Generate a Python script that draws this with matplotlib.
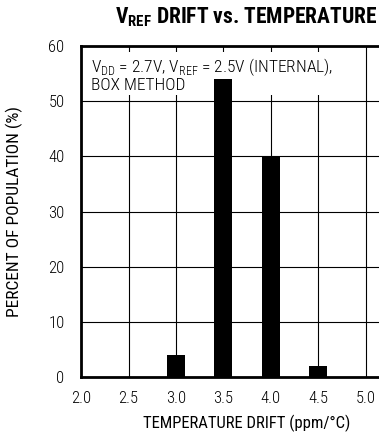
import matplotlib
matplotlib.use("Agg")
import matplotlib.pyplot as plt
from matplotlib import font_manager

drift = [3.0, 3.5, 4.0, 4.5]
percent = [4, 54, 40, 2]
xticks = [2.0, 2.5, 3.0, 3.5, 4.0, 4.5, 5.0]
yticks = [0, 10, 20, 30, 40, 50, 60]

# narrow font if there is one
installed = {f.name for f in font_manager.fontManager.ttflist}
font = 'Roboto'
for name in ['Roboto Condensed', 'Liberation Sans Narrow', 'Open Sans Condensed']:
    if name in installed:
        font = name
        break

plt.rcParams['font.family'] = [font, 'DejaVu Sans']
plt.rcParams['font.weight'] = 'light'
plt.rcParams['mathtext.fontset'] = 'custom'
plt.rcParams['mathtext.rm'] = font + ':light'
plt.rcParams['mathtext.bf'] = font + ':bold'

fig = plt.figure(figsize=(3.79, 4.38), dpi=100)
# axes run past the right edge, as in the cropped original
ax = fig.add_axes([0.214, 0.139, 0.876, 0.756])

ax.bar(drift, percent, width=0.19, color='black', zorder=5)

ax.set_xlim(2.0, 5.5)
ax.set_ylim(0, 60)
ax.set_xticks(xticks)
ax.set_xticklabels([f"{t:.1f}" for t in xticks])
ax.set_yticks(yticks)
ax.grid(True, color='black', linewidth=0.8, zorder=1)
ax.tick_params(length=0, labelsize=12)
ax.tick_params(axis='x', pad=10)
ax.tick_params(axis='y', pad=12)
for s in ax.spines.values():
    s.set_linewidth(2)

ax.set_xlabel("TEMPERATURE DRIFT (ppm/°C)", fontsize=12, labelpad=6)
ax.set_ylabel("PERCENT OF POPULATION (%)", fontsize=12.5, labelpad=18)

ax.text(0.03, 0.97, "V$_{\\mathrm{DD}}$ = 2.7V, V$_{\\mathrm{REF}}$ = 2.5V (INTERNAL),\nBOX METHOD",
        transform=ax.transAxes, ha='left', va='top', fontsize=12.5, linespacing=1.05,
        bbox=dict(facecolor='white', edgecolor='none', pad=1), zorder=4)

fig.text(0.304, 0.961, "V$_{\\mathbf{REF}}$ DRIFT vs. TEMPERATURE", ha='left', va='center',
         fontsize=15.5, fontweight='bold')

fig.savefig("out.png", dpi=100)
